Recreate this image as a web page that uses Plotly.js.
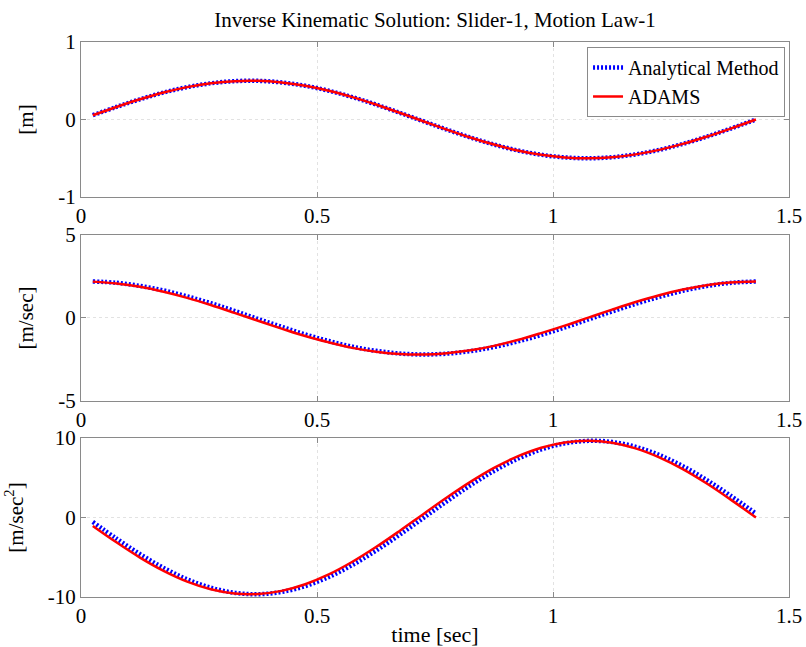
<!DOCTYPE html>
<html>
<head>
<meta charset="utf-8">
<script src="https://cdn.plot.ly/plotly-3.0.1.min.js"></script>
<style>html,body{margin:0;padding:0;background:#fff;}#chart{width:806px;height:647px;}</style>
</head>
<body>
<div id="chart"></div>
<script>
// time samples [sec]
const time = [0.025,0.075,0.125,0.175,0.225,0.275,0.325,0.375,0.425,0.475,0.525,0.575,0.625,0.675,0.725,0.775,0.825,0.875,0.925,0.975,1.025,1.075,1.125,1.175,1.225,1.275,1.325,1.375,1.43];

// position [m]
const posAnalytical = [0.055,0.162,0.261,0.348,0.418,0.467,0.495,0.499,0.478,0.435,0.371,0.289,0.193,0.087,-0.022,-0.130,-0.232,-0.323,-0.399,-0.455,-0.489,-0.500,-0.487,-0.450,-0.392,-0.315,-0.223,-0.120,0.0];
const posAdams      = [0.055,0.162,0.261,0.348,0.418,0.467,0.495,0.499,0.478,0.435,0.371,0.289,0.193,0.087,-0.022,-0.130,-0.232,-0.323,-0.399,-0.455,-0.489,-0.500,-0.487,-0.450,-0.392,-0.315,-0.223,-0.120,0.0];

// velocity [m/sec]
const velAnalytical = [2.20,2.12,1.93,1.66,1.30,0.89,0.43,-0.06,-0.53,-0.99,-1.39,-1.73,-1.98,-2.14,-2.20,-2.15,-2.00,-1.75,-1.42,-1.02,-0.57,-0.09,0.39,0.85,1.27,1.64,1.92,2.11,2.20];
const velAdams      = [2.19,2.08,1.88,1.58,1.21,0.78,0.31,-0.17,-0.64,-1.09,-1.47,-1.80,-2.03,-2.17,-2.20,-2.12,-1.95,-1.68,-1.33,-0.91,-0.46,0.02,0.50,0.96,1.37,1.71,1.97,2.14,2.20];

// acceleration [m/sec^2]
const accAnalytical = [-0.56,-2.65,-4.60,-6.34,-7.78,-8.83,-9.47,-9.65,-9.36,-8.63,-7.48,-5.97,-4.17,-2.18,-0.08,2.03,4.04,5.85,7.38,8.56,9.32,9.64,9.50,8.89,7.86,6.46,4.74,2.79,0.50];
const accAdams      = [-1.06,-3.12,-5.04,-6.71,-8.06,-9.02,-9.55,-9.62,-9.23,-8.39,-7.16,-5.57,-3.72,-1.69,0.42,2.51,4.48,6.24,7.69,8.78,9.44,9.65,9.40,8.69,7.56,6.08,4.30,2.31,0.0];

const seriesNames = ['Analytical Method','ADAMS'];
const xTicks = [0,0.5,1,1.5];
const yTicksPos = [-1,0,1];
const yTicksVel = [-5,0,5];
const yTicksAcc = [-10,0,10];

const FONT = 'Liberation Serif, Times New Roman, serif';
const blueStyle = {color:'#0000ff', width:4.5, dash:'2px,2px', shape:'spline'};
const redStyle  = {color:'#ff0000', width:2.5, shape:'spline'};

function pair(y1, y2, xa, ya, showLeg){
  return [
    {x:time, y:y1, xaxis:xa, yaxis:ya, type:'scatter', mode:'lines', name:seriesNames[0], line:blueStyle, showlegend:showLeg},
    {x:time, y:y2, xaxis:xa, yaxis:ya, type:'scatter', mode:'lines', name:seriesNames[1], line:redStyle, showlegend:showLeg}
  ];
}
const data = [].concat(
  pair(posAnalytical, posAdams, 'x', 'y', true),
  pair(velAnalytical, velAdams, 'x2', 'y2', false),
  pair(accAnalytical, accAdams, 'x3', 'y3', false)
);

const axCommon = {
  showline:true, linecolor:'#8a8a8a', linewidth:1, mirror:'ticks',
  ticks:'inside', ticklen:5, tickcolor:'#8a8a8a',
  showgrid:true, gridcolor:'#e2e2e2', griddash:'dot', gridwidth:1,
  zeroline:false, tickfont:{family:FONT, size:21, color:'#000'}
};
function xax(anchor, extra){
  return Object.assign({}, axCommon, {anchor:anchor, range:[0,1.5], tickvals:xTicks, ticktext:['0','0.5','1','1.5']}, extra||{});
}
function yax(anchor, dom, rng, tv, title){
  return Object.assign({}, axCommon, {anchor:anchor, domain:dom, range:rng, tickvals:tv, ticktext:tv.map(String),
    title:{text:title, font:{family:FONT, size:21, color:'#000'}, standoff:18}});
}

const layout = {
  width:806, height:647,
  paper_bgcolor:'#fff', plot_bgcolor:'#fff',
  margin:{l:81, r:17, t:42, b:50},
  font:{family:FONT, color:'#000'},
  title:{text:'Inverse Kinematic Solution: Slider-1, Motion Law-1', font:{family:FONT, size:21, color:'#000'},
         x:0.5, xref:'paper', xanchor:'center', y:0.97, yref:'container', yanchor:'middle'},
  xaxis: xax('y'),
  xaxis2: xax('y2'),
  xaxis3: xax('y3', {title:{text:'time [sec]', font:{family:FONT, size:22, color:'#000'}, standoff:2}}),
  yaxis: yax('x', [0.7207,1], [-1,1], yTicksPos, '[m]'),
  yaxis2: yax('x2', [0.3532,0.6523], [-5,5], yTicksVel, '[m/sec]'),
  yaxis3: yax('x3', [0,0.2865], [-10,10], yTicksAcc, '[m/sec<sup>2</sup>]'),
  showlegend:true,
  legend:{x:0.9944, xanchor:'right', y:0.991, yanchor:'top', bgcolor:'#fff', bordercolor:'#8a8a8a', borderwidth:1,
          font:{family:FONT, size:20, color:'#000'}, tracegroupgap:0, itemwidth:30}
};

Plotly.newPlot('chart', data, layout, {displayModeBar:false, staticPlot:true});
</script>
</body>
</html>
